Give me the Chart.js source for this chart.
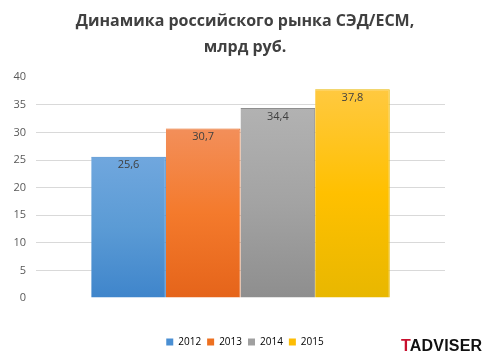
<!DOCTYPE html>
<html lang="ru">
<head>
  <meta charset="UTF-8" />
  <title>Динамика российского рынка СЭД/ECM</title>
  <script src="https://cdn.jsdelivr.net/npm/chart.js"></script>
  <style>
    html, body { margin: 0; padding: 0; background: #fff; }
    #wrap { position: relative; width: 490px; height: 363px; }
    #logo {
      position: absolute; left: 401px; top: 337px;
      font-family: "Liberation Sans", Arial, sans-serif;
      font-weight: bold; font-size: 16px; color: #111; letter-spacing: 0.2px;
    }
    #logo span { color: #c8102e; }
  </style>
</head>
<body>
<div id="wrap">
  <canvas id="market" width="490" height="363"></canvas>
  <div id="logo"><span>T</span>ADVISER</div>
</div>

<script>
  // data
  const years = ['2012', '2013', '2014', '2015'];
  const values = [25.6, 30.7, 34.4, 37.8];
  const yTicks = [0, 5, 10, 15, 20, 25, 30, 35, 40];

  // bar gradients, top -> bottom
  const topColors = ['#70a7de', '#f38f5a', '#b2b2b2', '#ffc940'];
  const midColors = ['#5b9bd5', '#f47a2c', '#a3a3a3', '#ffc000'];
  const bottomColors = ['#3f85cb', '#e5641a', '#8e8e8e', '#e8b700'];
  const legendColors = ['#4a8fd3', '#ed7020', '#a0a0a0', '#fdbd05'];

  function gradientFor(i) {
    return function (context) {
      const chart = context.chart;
      const area = chart.chartArea;
      if (!area) return midColors[i];
      const y0 = chart.scales.y.getPixelForValue(values[i]);
      const g = chart.ctx.createLinearGradient(0, y0, 0, area.bottom);
      g.addColorStop(0, topColors[i]);
      g.addColorStop(0.5, midColors[i]);
      g.addColorStop(1, bottomColors[i]);
      return g;
    };
  }

  const valueLabels = {
    id: 'valueLabels',
    afterDatasetsDraw(chart) {
      const ctx = chart.ctx;
      ctx.save();
      ctx.font = '11px "Open Sans", sans-serif';
      ctx.fillStyle = '#404040';
      ctx.textAlign = 'center';
      ctx.textBaseline = 'top';
      chart.data.datasets.forEach((ds, i) => {
        const bar = chart.getDatasetMeta(i).data[0];
        const txt = ds.data[0].toFixed(1).replace('.', ',');
        ctx.fillText(txt, bar.x, bar.y + 3);
      });
      ctx.restore();
    }
  };

  new Chart(document.getElementById('market'), {
    type: 'bar',
    data: {
      labels: [''],
      datasets: years.map((yr, i) => ({
        label: yr,
        data: [values[i]],
        backgroundColor: gradientFor(i),
        borderColor: bottomColors[i],
        borderWidth: { left: 0, right: 1, top: 1, bottom: 0 },
        borderSkipped: false
      }))
    },
    options: {
      responsive: false,
      animation: false,
      layout: { padding: { left: 0, right: 0, top: 0, bottom: 6 } },
      datasets: { bar: { barPercentage: 1, categoryPercentage: 0.73 } },
      plugins: {
        title: {
          display: true,
          text: ['Динамика российского рынка СЭД/ECM,', 'млрд руб.'],
          color: '#404040',
          font: { family: '"Open Sans", sans-serif', size: 16, weight: 'bold', lineHeight: 1.6 },
          padding: { top: 9, bottom: 17 }
        },
        legend: {
          position: 'bottom',
          labels: {
            boxWidth: 7,
            boxHeight: 7,
            padding: 6,
            color: '#595959',
            font: { family: '"Open Sans", sans-serif', size: 10 },
            generateLabels: () => years.map((yr, i) => ({
              text: yr, fillStyle: legendColors[i], strokeStyle: legendColors[i],
              lineWidth: 0, datasetIndex: i
            }))
          }
        },
        tooltip: { enabled: false }
      },
      scales: {
        x: {
          ticks: { display: false },
          grid: { display: false },
          border: { display: false },
          afterFit: s => { s.height = 33; }
        },
        y: {
          min: 0,
          max: 40,
          afterBuildTicks: axis => { axis.ticks = yTicks.map(v => ({ value: v })); },
          afterFit: s => { s.width = 36; },
          ticks: {
            color: '#595959',
            padding: 10,
            font: { family: '"Open Sans", sans-serif', size: 11 }
          },
          grid: {
            color: c => (c.tick.value === 0 || c.tick.value === 40) ? 'rgba(0,0,0,0)' : '#d9d9d9',
            drawTicks: false
          },
          border: { display: false }
        },
        yRight: {
          position: 'right',
          min: 0,
          max: 40,
          ticks: { display: false },
          grid: { display: false },
          border: { display: false },
          afterFit: s => { s.width = 45; }
        }
      }
    },
    plugins: [valueLabels]
  });
</script>
</body>
</html>
